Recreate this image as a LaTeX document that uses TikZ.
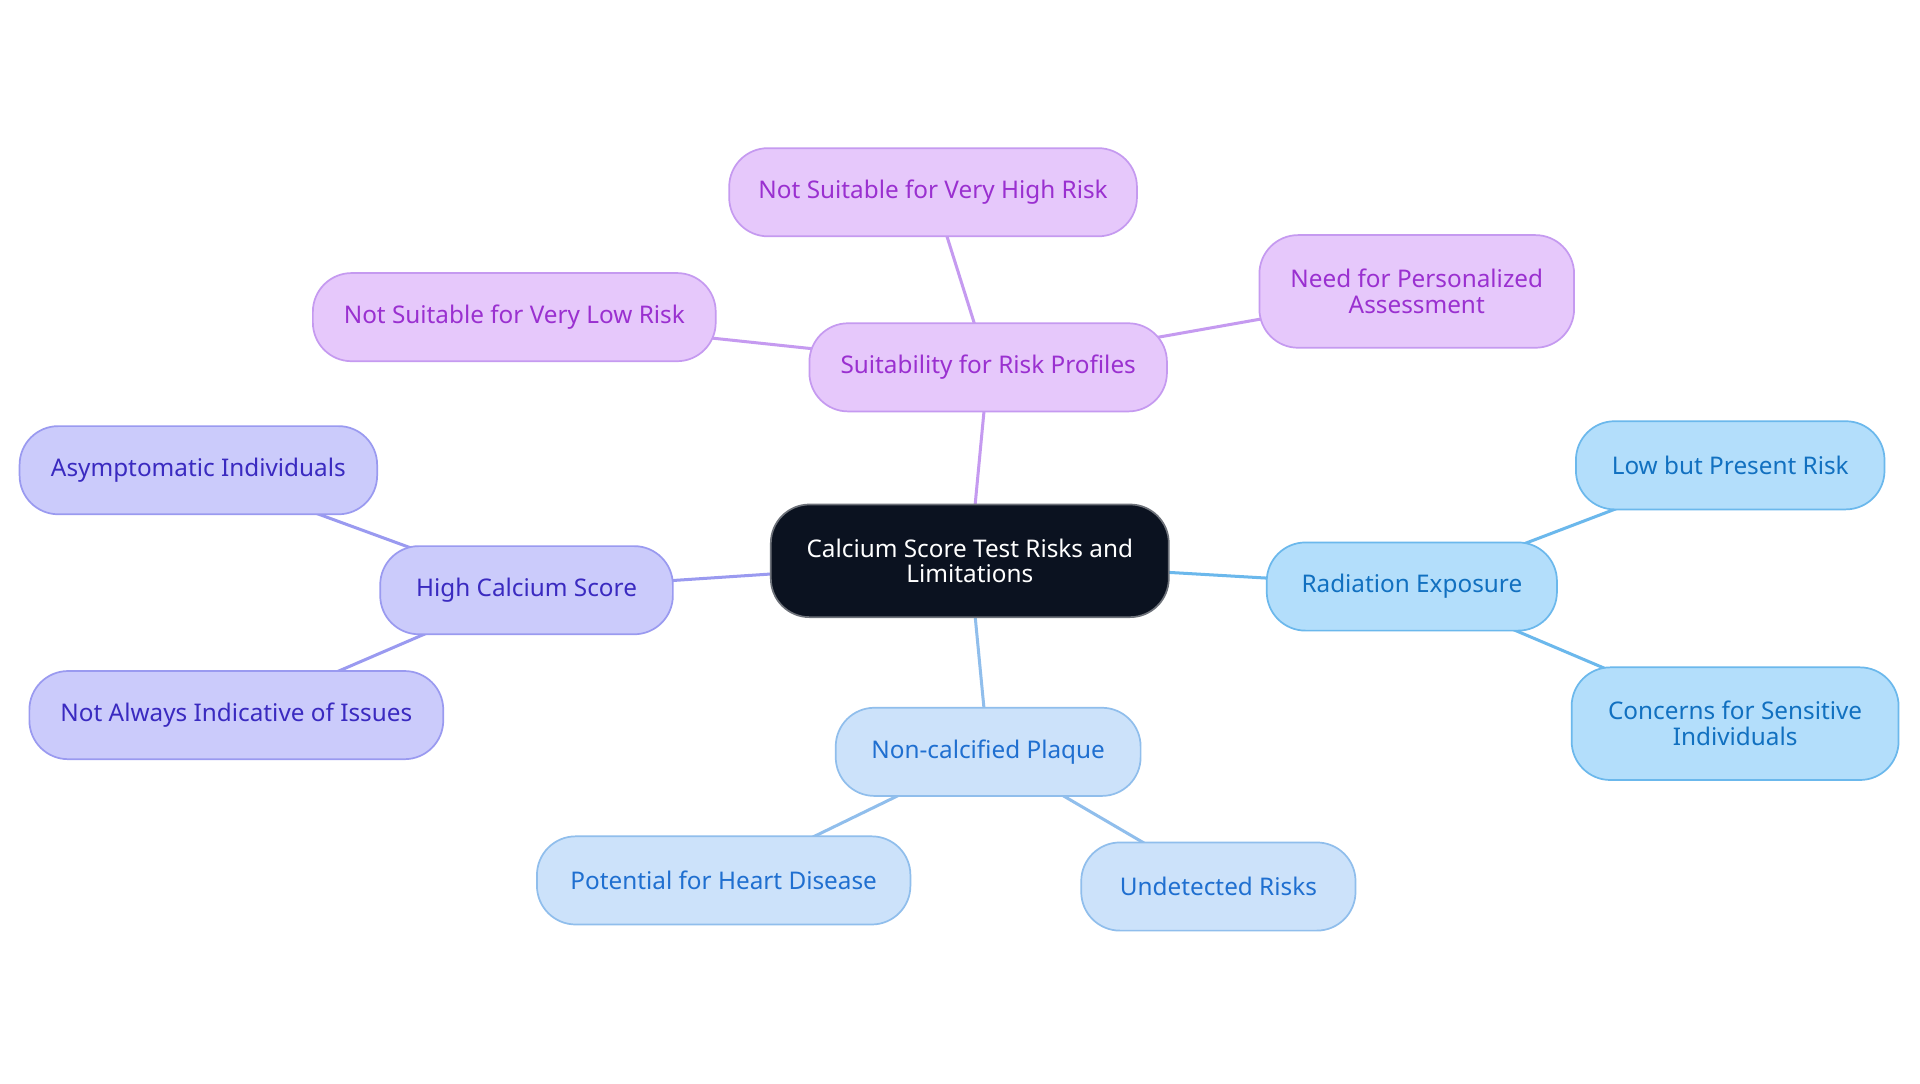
\documentclass[tikz,border=0pt]{standalone}
\usepackage{fontspec}
\setmainfont{Noto Sans}
\begin{document}
\begin{tikzpicture}[x=0.02cm,y=-0.02cm,
 box/.style 2 args={draw,line width=0.8pt,rounded corners=18pt,minimum width=#1*0.02cm,minimum height=#2*0.02cm,align=center,font=\fontsize{11.3pt}{12pt}\selectfont,inner sep=2pt},
 pur/.style={fill=purC,draw=purB,text=purT},
 ind/.style={fill=indC,draw=indB,text=indT},
 sky/.style={fill=skyC,draw=skyB,text=skyT},
 blu/.style={fill=bluC,draw=bluB,text=bluT},
 ln/.style={line width=1.4pt}]
\definecolor{purC}{HTML}{E6C8FB}\definecolor{purB}{HTML}{C59AF0}\definecolor{purT}{HTML}{9A30D0}
\definecolor{indC}{HTML}{CBCBFB}\definecolor{indB}{HTML}{9A9AF0}\definecolor{indT}{HTML}{3A2AC0}
\definecolor{skyC}{HTML}{B3DEFB}\definecolor{skyB}{HTML}{6BB8EC}\definecolor{skyT}{HTML}{1170C0}
\definecolor{bluC}{HTML}{CCE2FA}\definecolor{bluB}{HTML}{90BEEC}\definecolor{bluT}{HTML}{1F6FD0}
\definecolor{dark}{HTML}{0B1220}
\useasboundingbox[fill=white] (0,0) rectangle (1568,885);
% edges first
\coordinate (c) at (792,458);
\coordinate (s) at (807,300);\coordinate (s1) at (762,157);\coordinate (s2) at (1157,238);\coordinate (s3) at (420,259);
\coordinate (h) at (430,482);\coordinate (h1) at (162,384);\coordinate (h2) at (193,584);
\coordinate (r) at (1153,479);\coordinate (r1) at (1413,380);\coordinate (r2) at (1417,591);
\coordinate (n) at (807,614);\coordinate (n1) at (591,719);\coordinate (n2) at (995,724);
\draw[ln,purB] (c)--(s) (s)--(s1) (s)--(s2) (s)--(s3);
\draw[ln,indB] (c)--(h) (h)--(h1) (h)--(h2);
\draw[ln,skyB] (c)--(r) (r)--(r1) (r)--(r2);
\draw[ln,bluB] (c)--(n) (n)--(n1) (n)--(n2);
\node[box={325}{92},fill=dark,draw=dark!60,text=white] (C) at (c) {Calcium Score Test Risks and\\Limitations};
\node[box={292}{72},pur] (S) at (s) {Suitability for Risk Profiles};
\node[box={333}{72},pur] (S1) at (s1) {Not Suitable for Very High Risk};
\node[box={257}{92},pur] (S2) at (s2) {Need for Personalized\\Assessment};
\node[box={329}{72},pur] (S3) at (s3) {Not Suitable for Very Low Risk};
\node[box={239}{72},ind] (H) at (h) {High Calcium Score};
\node[box={292}{72},ind] (H1) at (h1) {Asymptomatic Individuals};
\node[box={338}{72},ind] (H2) at (h2) {Not Always Indicative of Issues};
\node[box={237}{72},sky] (R) at (r) {Radiation Exposure};
\node[box={252}{72},sky] (R1) at (r1) {Low but Present Risk};
\node[box={267}{92},sky] (R2) at (r2) {Concerns for Sensitive\\Individuals};
\node[box={249}{72},blu] (N) at (n) {Non-calcified Plaque};
\node[box={305}{72},blu] (N1) at (n1) {Potential for Heart Disease};
\node[box={224}{72},blu] (N2) at (n2) {Undetected Risks};
\end{tikzpicture}
\end{document}
